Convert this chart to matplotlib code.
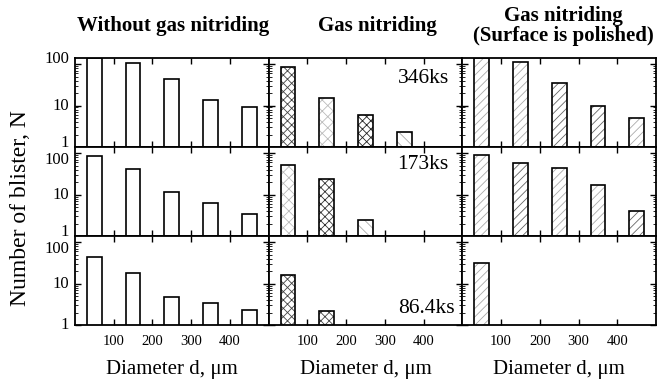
import matplotlib.pyplot as plt
from matplotlib.transforms import offset_copy
import numpy as np

plt.rcParams['font.family'] = ['Liberation Serif', 'DejaVu Serif']
plt.rcParams['hatch.linewidth'] = 0.6

# Blister counts per diameter bin (N), rows = exposure time
diameters = [50, 150, 250, 350, 450]
times = ['346ks', '173ks', '86.4ks']
col_titles = ['Without gas nitriding', 'Gas nitriding',
              'Gas nitriding\n(Surface is polished)']
xticks = [100, 200, 300, 400]
yticks = [1, 10, 100]

nan = np.nan
without_nitriding = [[140, 108, 45, 14, 9],
                     [86, 41, 11.7, 6.2, 3.4],
                     [43, 17.6, 4.8, 3.5, 2.3]]
gas_nitriding = [[86, 15.4, 6.1, 2.3, nan],
                 [52, 23.6, 2.5, nan, nan],
                 [16, 2.2, nan, nan, nan]]
polished = [[140, 110, 36, 9.7, 4.9],
            [90, 57, 43, 17, 4.1],
            [32, nan, nan, nan, nan]]

# hatch pattern and hatch colour of each bar
none = (None, 'white')
plain = [none] * 5
dark_x = ('xxxx', '#444444')
light_x = ('xxx', '#bbbbbb')
light_b = ('\\\\\\', '#aaaaaa')
gas_styles = [[dark_x, light_x, ('xxxx', '#222222'), light_b, none],
              [light_x, ('xxxx', '#333333'), light_b, none, none],
              [dark_x, dark_x, none, none, none]]
hd = ('////', '#666666')
hl = ('////', '#aaaaaa')
pol_styles = [[hl, hl, hd, hd, hl],
              [hl, hd, hl, hl, hd],
              [hl, none, none, none, none]]

data = [without_nitriding, gas_nitriding, polished]
styles = [[plain] * 3, gas_styles, pol_styles]

fig, axes = plt.subplots(3, 3, figsize=(6.57, 3.82), dpi=100, sharex=True, sharey=True)
fig.subplots_adjust(left=0.114, right=0.9985, top=0.848, bottom=0.149, wspace=0, hspace=0)

width = 38
for c in range(3):
    for r in range(3):
        ax = axes[r, c]
        ax.set_yscale('log')
        for x, v, (h, hc) in zip(diameters, data[c][r], styles[c][r]):
            if np.isnan(v):
                continue
            if h:
                ax.bar(x, v, width, facecolor='white', edgecolor=hc, hatch=h, linewidth=0)
            ax.bar(x, v, width, fill=False, edgecolor='black', linewidth=1.2)
        ax.set_xlim(0, 500)
        ax.set_ylim(1, 140)
        ax.set_xticks(xticks)
        ax.set_yticks(yticks)
        ax.set_yticklabels([])
        ax.tick_params(which='both', direction='in', top=True, right=True,
                       labelsize=10.5, colors='black')
        ax.tick_params(which='major', length=4, width=1)
        ax.tick_params(which='minor', length=2, width=0.6)
        for s in ax.spines.values():
            s.set_linewidth(1.3)
        if r == 2:
            ax.set_xlabel('Diameter d, μm', fontsize=15, labelpad=9)
            ax.tick_params(axis='x', pad=7)

# y tick labels of the first column, nudged so they do not collide across rows
for r in range(3):
    ax = axes[r, 0]
    for v in yticks:
        dy = 0
        if v == 1 and r < 2:
            dy = 3
        if v == 100:
            dy = 4 if r == 0 else -5
        tr = offset_copy(ax.get_yaxis_transform(), fig=fig, x=-4, y=dy, units='points')
        ax.text(0, v, str(v), transform=tr, ha='right', va='center', fontsize=12)

axes[0, 1].text(0.93, 0.775, times[0], transform=axes[0, 1].transAxes,
                ha='right', va='center', fontsize=15.5)
axes[1, 1].text(0.93, 0.80, times[1], transform=axes[1, 1].transAxes,
                ha='right', va='center', fontsize=15.5)
axes[2, 1].text(0.96, 0.19, times[2], transform=axes[2, 1].transAxes,
                ha='right', va='center', fontsize=15.5)

title_x = [0.263, 0.574, 0.858]
for x, t in zip(title_x, col_titles):
    fig.text(x, 0.932, t, ha='center', va='center', fontsize=15,
             fontweight='bold', linespacing=1.05)

fig.text(0.031, 0.455, 'Number of blister, N', rotation=90, ha='center',
         va='center', fontsize=17)

plt.savefig('out.png', dpi=100)
